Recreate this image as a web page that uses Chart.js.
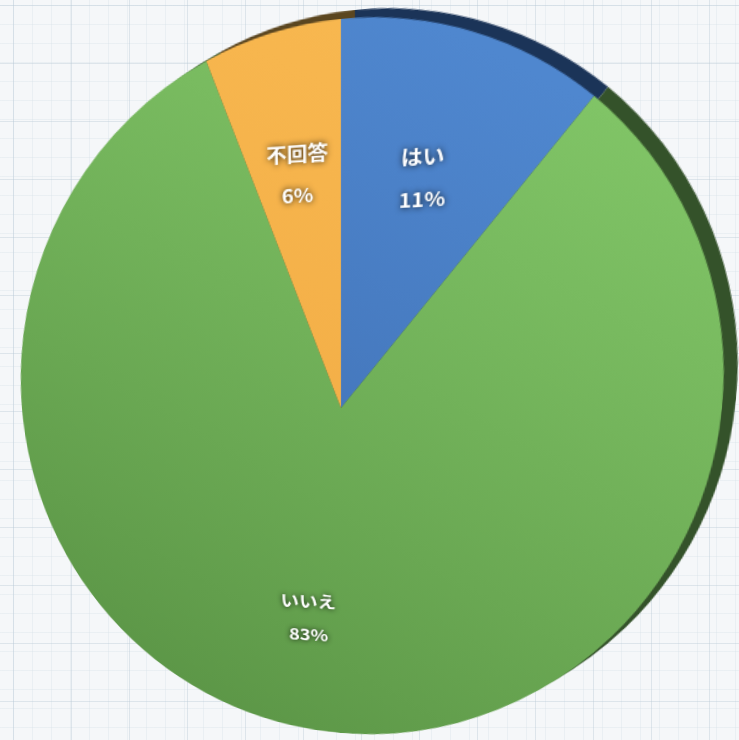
<!DOCTYPE html>
<html>
<head>
<meta charset="utf-8">
<script src="https://cdn.jsdelivr.net/npm/chart.js@4/dist/chart.umd.min.js"></script>
<style>
html, body { margin: 0; padding: 0; }
body {
  width: 739px; height: 740px; overflow: hidden; position: relative;
  background-color: #f5f7f9;
  background-image:
    linear-gradient(to right, rgba(185,202,214,0.4) 1px, transparent 1px),
    linear-gradient(to bottom, rgba(185,202,214,0.4) 1px, transparent 1px),
    linear-gradient(to right, rgba(215,224,232,0.35) 1px, transparent 1px),
    linear-gradient(to bottom, rgba(215,224,232,0.35) 1px, transparent 1px);
  background-size: 58px 58px, 58px 58px, 19px 19px, 19px 19px;
  background-position: 13px 5px, 13px 5px, 13px 5px, 13px 5px;
}
canvas { position: absolute; left: 0; top: 0; transform-origin: 0 0; }
</style>
</head>
<body>
<canvas id="side" width="600" height="600"></canvas>
<canvas id="face" width="600" height="600"></canvas>
<script>
// data
var labels = ["はい", "いいえ", "不回答"];
var values = [11, 83, 6];

// colours
var faceTop = ["#4f87cf", "#80c466", "#f8b850"];
var faceBottom = ["#3a68aa", "#5b9546", "#efa63f"];
var sideColors = ["#1b3458", "#34522a", "#5b4620"];

// tilted view: maps unit circle (s,t) to page pixels
var H = [
  [317.1, 30.6, 341],
  [-36.1, 390.7, 408],
  [-0.0886, 0.0896, 1]
];

function mul(a, b) {
  var r = [[0,0,0],[0,0,0],[0,0,0]];
  for (var i = 0; i < 3; i++)
    for (var j = 0; j < 3; j++)
      for (var k = 0; k < 3; k++) r[i][j] += a[i][k] * b[k][j];
  return r;
}

function tilt(chart, canvas, dx, dy) {
  var arc = chart.getDatasetMeta(0).data[0];
  var r = arc.outerRadius, cx = arc.x, cy = arc.y;
  var A = [[1/r, 0, -cx/r], [0, 1/r, -cy/r], [0, 0, 1]];
  var T = [[1, 0, dx], [0, 1, dy], [0, 0, 1]];
  var M = mul(T, mul(H, A));
  canvas.style.transform = "matrix3d(" + [
    M[0][0], M[1][0], 0, M[2][0],
    M[0][1], M[1][1], 0, M[2][1],
    0, 0, 1, 0,
    M[0][2], M[1][2], 0, M[2][2]
  ].join(",") + ")";
}

function faceColor(context) {
  var chart = context.chart;
  var i = context.dataIndex;
  if (!chart.chartArea) return faceTop[i];
  var g = chart.ctx.createLinearGradient(470, 60, 170, 600);
  g.addColorStop(0, faceTop[i]);
  g.addColorStop(1, faceBottom[i]);
  return g;
}

// text on the slices
var sliceLabels = {
  id: "sliceLabels",
  afterDatasetsDraw: function(chart) {
    var c = chart.ctx;
    chart.getDatasetMeta(0).data.forEach(function(arc, i) {
      var mid = (arc.startAngle + arc.endAngle) / 2;
      var rr = arc.outerRadius * 0.64;
      c.save();
      c.translate(arc.x + Math.cos(mid) * rr, arc.y + Math.sin(mid) * rr);
      c.scale(0.95, 0.8);
      c.font = 'bold 18px "Noto Sans CJK JP", sans-serif';
      c.textAlign = "center";
      c.textBaseline = "middle";
      c.fillStyle = "#ffffff";
      c.shadowColor = "rgba(0,0,0,0.85)";
      c.shadowBlur = 5;
      c.fillText(labels[i], 0, -20);
      c.fillText(values[i] + "%", 0, 20);
      c.restore();
    });
  }
};

var baseOptions = {
  responsive: false,
  animation: false,
  events: [],
  layout: { padding: 0 },
  plugins: { legend: { display: false }, tooltip: { enabled: false } }
};

var sideCanvas = document.getElementById("side");
var sideChart = new Chart(sideCanvas, {
  type: "pie",
  data: {
    labels: labels,
    datasets: [{ data: values, backgroundColor: sideColors, borderWidth: 0, hoverOffset: 0 }]
  },
  options: baseOptions
});

var faceCanvas = document.getElementById("face");
var faceChart = new Chart(faceCanvas, {
  type: "pie",
  data: {
    labels: labels,
    datasets: [{ data: values, backgroundColor: faceColor, borderWidth: 0, hoverOffset: 0 }]
  },
  options: baseOptions,
  plugins: [sliceLabels]
});

tilt(sideChart, sideCanvas, 14, -9);
tilt(faceChart, faceCanvas, 0, 0);
</script>
</body>
</html>
